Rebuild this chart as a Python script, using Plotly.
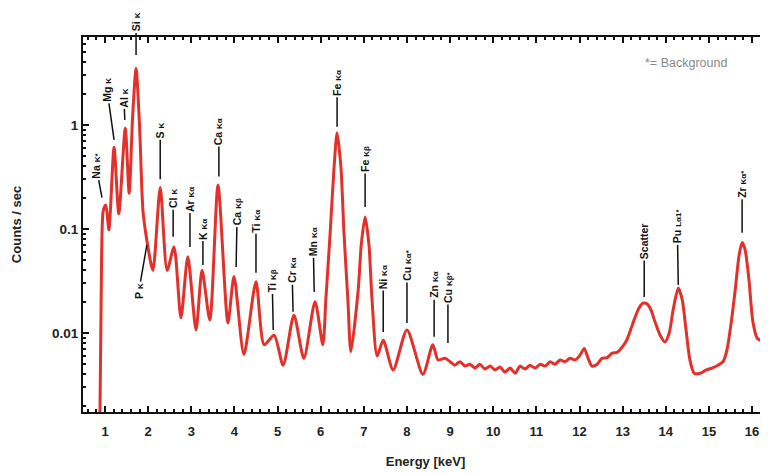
import plotly.graph_objects as go
import math

# ---- spectrum data ----
energy_kev = [0.88, 0.92, 0.96, 1.02, 1.09, 1.21, 1.32, 1.47, 1.56, 1.64, 1.72, 1.80, 1.88, 1.97,
              2.11, 2.28, 2.44, 2.60, 2.76, 2.92, 3.11, 3.25, 3.43, 3.62, 3.85, 3.99, 4.22, 4.50,
              4.69, 4.92, 5.13, 5.38, 5.61, 5.87, 6.05, 6.12, 6.22, 6.31, 6.38, 6.47, 6.54, 6.63,
              6.70, 6.87, 6.94, 7.03, 7.12, 7.19, 7.31, 7.45, 7.68, 8.00, 8.37, 8.60, 8.72, 8.88,
              9.00, 9.11, 9.23, 9.35, 9.46, 9.58, 9.69, 9.81, 9.93, 10.04, 10.16, 10.27, 10.39,
              10.51, 10.62, 10.74, 10.85, 10.97, 11.09, 11.20, 11.32, 11.43, 11.55, 11.67, 11.78,
              11.90, 12.01, 12.11, 12.20, 12.29, 12.41, 12.52, 12.64, 12.76, 12.87, 12.99, 13.10,
              13.20, 13.29, 13.38, 13.48, 13.57, 13.66, 13.75, 13.87, 13.98, 14.08, 14.17, 14.29,
              14.38, 14.47, 14.56, 14.66, 14.80, 14.93, 15.07, 15.21, 15.33, 15.42, 15.51, 15.61,
              15.70, 15.77, 15.84, 15.93, 16.02, 16.12, 16.23, 16.37]
counts_per_sec = [0.0012, 0.05, 0.15, 0.17, 0.098, 0.61, 0.14, 0.93, 0.22, 1.2, 3.5, 1.0, 0.15, 0.078,
                  0.040, 0.25, 0.040, 0.067, 0.014, 0.054, 0.0107, 0.040, 0.0133, 0.265, 0.0125, 0.035,
                  0.0062, 0.031, 0.0077, 0.0095, 0.0049, 0.0148, 0.0057, 0.020, 0.0077, 0.021, 0.092,
                  0.39, 0.84, 0.39, 0.092, 0.021, 0.0066, 0.026, 0.070, 0.13, 0.070, 0.021, 0.0060,
                  0.0085, 0.0044, 0.0107, 0.0040, 0.0077, 0.0055, 0.0057,
                  0.0053, 0.0049, 0.0053, 0.0048, 0.0050, 0.0046, 0.0050, 0.0045, 0.0048, 0.0044,
                  0.0047, 0.0042, 0.0046, 0.0041, 0.0048, 0.0045, 0.0049, 0.0046, 0.0050, 0.0048,
                  0.0053, 0.0050, 0.0055, 0.0053, 0.0057, 0.0055, 0.0061, 0.0071, 0.0057, 0.0048,
                  0.0050, 0.0057, 0.0058, 0.0064, 0.0065, 0.0073, 0.0086, 0.0112, 0.0142, 0.0174,
                  0.0194, 0.019, 0.0166, 0.0128, 0.0095, 0.0082, 0.0100, 0.0166, 0.027, 0.021,
                  0.0107, 0.0055, 0.0041, 0.0041, 0.0044, 0.0046, 0.0049, 0.0053, 0.0069, 0.012,
                  0.026, 0.056, 0.074, 0.063, 0.032, 0.0128, 0.0089, 0.0085, 0.0098]

# ---- peak labels ----
label_element = ["Na", "Mg", "Al", "Si", "P", "S", "Cl", "Ar", "K", "Ca", "Ca", "Ti", "Ti", "Cr", "Mn",
                 "Fe", "Fe", "Ni", "Cu", "Zn", "Cu", "Scatter", "Pu", "Zr"]
label_line = ["K*", "K", "K", "K", "K", "K", "K", "Kα", "Kα", "Kα", "Kβ", "Kα", "Kβ", "Kα", "Kα",
              "Kα", "Kβ", "Kα", "Kα*", "Kα", "Kβ*", "", "Lα1*", "Kα*"]
label_energy = [0.93, 1.21, 1.46, 1.72, 1.97, 2.28, 2.58, 2.97, 3.27, 3.64, 4.04, 4.50, 4.90, 5.36, 5.85,
                6.38, 7.03, 7.45, 8.00, 8.63, 8.95, 13.50, 14.29, 15.77]
label_tip = [0.20, 0.72, 1.12, 4.7, 0.070, 0.30, 0.084, 0.067, 0.045, 0.32, 0.043, 0.038, 0.0107, 0.016,
             0.0248, 0.96, 0.163, 0.0102, 0.0125, 0.0092, 0.0080, 0.0222, 0.029, 0.092]
label_dx = [-6, -7, -1, 0, -8, 0, 0, 0, 0, 0, 1, 0, -1, -1, -1, 0, 0, 0, 0, 0, 0, 0, -1, 0]
label_dy = [-32, -50, -22, -33, 46, -49, -38, -48, -36, -45, -55, -52, -49, -41, -50, -44, -48, -55,
            -58, -52, -56, -56, -59, -49]

x_ticks = list(range(1, 17))
y_tick_vals = [0.01, 0.1, 1]
y_tick_text = ["0.01", "0.1", "1"]
y_minor_vals = [0.002, 0.003, 0.004, 0.005, 0.006, 0.007, 0.008, 0.009,
                0.02, 0.03, 0.04, 0.05, 0.06, 0.07, 0.08, 0.09,
                0.2, 0.3, 0.4, 0.5, 0.6, 0.7, 0.8, 0.9, 2, 3, 4, 5, 6]

FONT = "Liberation Sans, Arial, sans-serif"
RED = "#e2312b"

fig = go.Figure()
fig.add_trace(go.Scatter(x=energy_kev, y=counts_per_sec, mode="lines",
                         line=dict(color=RED, width=3, shape="spline", smoothing=0.7),
                         hoverinfo="skip", showlegend=False))

for el, ln, e, tip, dx, dy in zip(label_element, label_line, label_energy, label_tip, label_dx, label_dy):
    if ln:
        txt = "<b>%s</b> <span style='font-size:8px'><b>%s</b></span>" % (el, ln)
    else:
        txt = "<b>%s</b>" % el
    fig.add_annotation(x=e, y=math.log10(tip), xref="x", yref="y", text=txt, textangle=-90,
                       showarrow=True, arrowhead=0, arrowwidth=1.5, arrowcolor="#111",
                       ax=dx, ay=dy, standoff=0, font=dict(family=FONT, size=10.5, color="#111"))

fig.add_annotation(x=14.47, y=math.log10(3.95), xref="x", yref="y", text="*= Background",
                   showarrow=False, font=dict(family=FONT, size=12.5, color="#888"))

fig.update_layout(
    width=768, height=475,
    margin=dict(l=75, r=8, t=29, b=71),
    paper_bgcolor="white", plot_bgcolor="white",
    font=dict(family=FONT, color="#222"),
    xaxis=dict(range=[0.49, 16.37], tickvals=x_ticks, ticks="inside", ticklen=6, tickwidth=1.5,
               tickcolor="#111", showline=True, linecolor="#111", linewidth=2, mirror="allticks",
               showgrid=False, zeroline=False, automargin=False, ticklabelstandoff=6,
               tickfont=dict(family=FONT, size=13, color="#222", weight="bold"),
               minor=dict(dtick=0.2, tick0=0, ticks="inside", ticklen=3, tickcolor="#111", showgrid=False),
               title=dict(text="Energy [keV]", font=dict(family=FONT, size=13, color="#222", weight="bold"),
                          standoff=19)),
    yaxis=dict(type="log", range=[-2.76, 0.846], tickvals=y_tick_vals, ticktext=y_tick_text,
               ticks="inside", ticklen=6, tickwidth=1.5, tickcolor="#111", showline=True,
               linecolor="#111", linewidth=2, mirror=False, showgrid=False, zeroline=False,
               automargin=False, ticklabelstandoff=0,
               tickfont=dict(family=FONT, size=13.5, color="#222", weight="bold"),
               minor=dict(tickvals=y_minor_vals, ticks="inside", ticklen=3, tickcolor="#111",
                          showgrid=False),
               title=dict(text="Counts / sec", font=dict(family=FONT, size=13, color="#222", weight="bold"),
                          standoff=27)),
)

fig.write_html("out.html")
